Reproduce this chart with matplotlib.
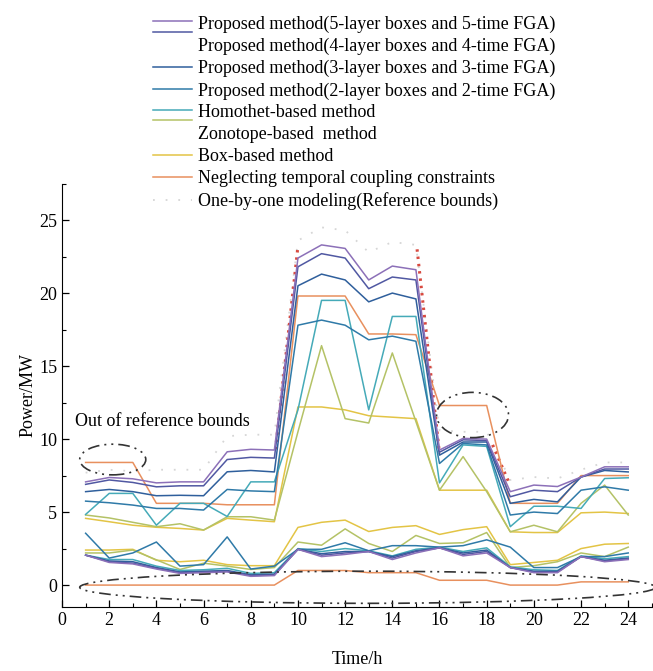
import numpy as np
import matplotlib
matplotlib.use("Agg")
import matplotlib.pyplot as plt
from matplotlib.lines import Line2D
from matplotlib.patches import Ellipse
from matplotlib.legend_handler import HandlerBase

plt.rcParams['font.family'] = ['Liberation Serif', 'DejaVu Serif']

# ---- data ----
hours = list(range(1, 25))

# upper bounds
up5 = [7.07, 7.37, 7.28, 7.0, 7.07, 7.07, 9.13, 9.3, 9.25, 22.4, 23.3, 23.06, 20.9, 21.85, 21.6,
       9.25, 10.05, 10.0, 6.4, 6.85, 6.75, 7.4, 8.1, 8.1]
up4 = [6.9, 7.2, 7.03, 6.73, 6.8, 6.8, 8.6, 8.75, 8.7, 21.8, 22.7, 22.4, 20.3, 21.1, 20.9,
       9.1, 9.95, 9.9, 6.05, 6.5, 6.4, 7.4, 7.95, 7.95]
up3 = [6.4, 6.55, 6.4, 6.12, 6.15, 6.12, 7.76, 7.85, 7.75, 20.5, 21.3, 20.9, 19.4, 20.0, 19.6,
       8.9, 9.8, 9.8, 5.6, 5.87, 5.7, 7.4, 7.85, 7.75]
up2 = [5.75, 5.64, 5.48, 5.25, 5.25, 5.14, 6.55, 6.45, 6.4, 17.8, 18.15, 17.8, 16.8, 17.05, 16.7,
       8.33, 9.7, 9.6, 4.8, 5.0, 4.9, 6.5, 6.73, 6.5]
up_hom = [4.84, 6.28, 6.28, 4.1, 5.6, 5.6, 4.7, 7.07, 7.07, 12.0, 19.5, 19.5, 12.0, 18.4, 18.4,
          7.0, 9.6, 9.5, 4.0, 5.4, 5.4, 5.25, 7.3, 7.35]
up_zon = [4.8, 4.6, 4.3, 4.0, 4.2, 3.77, 4.68, 4.68, 4.45, 10.5, 16.4, 11.4, 11.1, 15.9, 11.2,
          6.5, 8.8, 6.4, 3.65, 4.1, 3.65, 5.6, 6.85, 4.8]
up_box = [4.57, 4.34, 4.1, 3.96, 3.88, 3.77, 4.57, 4.45, 4.34, 12.2, 12.2, 12.0, 11.6, 11.5, 11.4,
          6.5, 6.5, 6.5, 3.65, 3.6, 3.6, 4.95, 5.0, 4.9]
up_neg = [8.4, 8.4, 8.4, 5.6, 5.6, 5.6, 5.5, 5.5, 5.5, 19.8, 19.8, 19.8, 17.2, 17.2, 17.15,
          12.3, 12.3, 12.3, 5.6, 5.6, 5.6, 7.5, 7.5, 7.5]
up_ref = [7.7, 7.9, 7.8, 7.9, 7.9, 7.9, 10.2, 10.3, 10.3, 23.6, 24.5, 24.3, 22.8, 23.5, 23.3,
          10.6, 10.5, 10.5, 7.2, 7.4, 7.3, 7.9, 8.4, 8.4]

# lower bounds
lo5 = [2.05, 1.55, 1.45, 1.1, 0.8, 0.85, 0.9, 0.6, 0.65, 2.45, 1.95, 2.1, 2.3, 1.75, 2.2,
       2.55, 2.0, 2.2, 1.2, 0.85, 0.85, 1.95, 1.6, 1.75]
lo4 = [2.05, 1.6, 1.5, 1.15, 0.85, 0.9, 0.95, 0.65, 0.7, 2.45, 2.05, 2.2, 2.3, 1.85, 2.3,
       2.55, 2.1, 2.3, 1.2, 0.9, 0.9, 1.95, 1.65, 1.8]
lo3 = [2.05, 1.65, 1.6, 1.2, 0.9, 0.95, 1.0, 0.7, 0.75, 2.45, 2.15, 2.3, 2.3, 1.95, 2.35,
       2.55, 2.2, 2.4, 1.2, 0.95, 0.95, 1.95, 1.7, 1.85]
lo2 = [3.55, 1.85, 2.2, 2.95, 1.3, 1.4, 3.3, 1.1, 1.3, 2.45, 2.45, 2.9, 2.35, 2.7, 2.7,
       2.6, 2.7, 3.1, 2.6, 1.2, 1.2, 1.95, 1.95, 2.2]
lo_hom = [2.05, 1.75, 1.75, 1.3, 1.0, 1.05, 1.15, 0.8, 0.85, 2.5, 2.3, 2.5, 2.35, 2.0, 2.45,
          2.6, 2.3, 2.55, 1.25, 1.05, 1.0, 2.0, 1.8, 1.95]
lo_zon = [2.2, 2.2, 2.4, 1.73, 1.07, 1.5, 1.3, 1.07, 1.2, 2.95, 2.73, 3.85, 2.85, 2.3, 3.4,
          2.85, 2.9, 3.6, 1.2, 1.33, 1.6, 2.2, 1.95, 2.6]
lo_box = [2.4, 2.4, 2.45, 1.7, 1.6, 1.7, 1.4, 1.33, 1.33, 3.95, 4.3, 4.45, 3.67, 3.95, 4.07,
          3.47, 3.8, 4.0, 1.4, 1.55, 1.7, 2.5, 2.8, 2.85]
lo_neg = [0, 0, 0, 0, 0, 0, 0, 0, 0, 1.0, 1.0, 1.0, 0.85, 0.85, 0.85,
          0.33, 0.33, 0.33, 0, 0, 0, 0.22, 0.22, 0.22]

# red dotted pieces of the reference bound that stick out
red_h = [[9.05, 10.0], [15.05, 16.0], [18.25, 18.95], [6.6, 6.62]]
red_v = [[9.3, 23.2], [23.0, 9.0], [9.6, 7.0], [9.2, 9.2]]

labels = ['Proposed method(5-layer boxes and 5-time FGA)',
          'Proposed method(4-layer boxes and 4-time FGA)',
          'Proposed method(3-layer boxes and 3-time FGA)',
          'Proposed method(2-layer boxes and 2-time FGA)',
          'Homothet-based method',
          'Zonotope-based  method',
          'Box-based method',
          'Neglecting temporal coupling constraints',
          'One-by-one modeling(Reference bounds)']

colors = ['#8c70b8', '#5058a2', '#2f5f9c', '#2f7aa8', '#45aab8',
          '#b4c266', '#e3c445', '#e8905e', '#d6d6d6']


class TwoLines(HandlerBase):
    # legend in the figure shows two stacked line samples on one row
    def __init__(self, c1, c2):
        super().__init__()
        self.c1, self.c2 = c1, c2

    def create_artists(self, legend, orig_handle, xdescent, ydescent, width, height, fontsize, trans):
        y = height / 2 - ydescent
        a = Line2D([-xdescent, width - xdescent], [y + 1, y + 1], color=self.c1, lw=1.1, transform=trans)
        b = Line2D([-xdescent, width - xdescent], [y - 6.5, y - 6.5], color=self.c2, lw=1.1, transform=trans)
        return [a, b]


fig = plt.figure(figsize=(6.53, 6.71), dpi=100)
ax = fig.add_axes([0.095, 0.0954, 0.905, 0.631])

# reference bound (faint)
ax.plot(hours, up_ref, color=colors[8], lw=1.3, linestyle=(0, (1, 6)), zorder=1)
for hh, vv in zip(red_h, red_v):
    ax.plot(hh, vv, color='#d84a40', lw=2.2, linestyle=(0, (0.8, 1.6)), zorder=1)

ups = [up5, up4, up3, up2, up_hom, up_zon, up_box, up_neg]
los = [lo5, lo4, lo3, lo2, lo_hom, lo_zon, lo_box, lo_neg]
for i in range(8)[::-1]:
    ax.plot(hours, ups[i], color=colors[i], lw=1.1, zorder=3)
    ax.plot(hours, los[i], color=colors[i], lw=1.1, zorder=3)

# dash-dot-dot ellipses
dd = (0, (7, 3, 1.2, 3, 1.2, 3))
for (cx, cy, w, h) in [(2.15, 8.6, 2.8, 2.1), (17.4, 11.65, 3.05, 3.1), (12.95, -0.15, 24.4, 2.2)]:
    e = Ellipse((cx, cy), w, h, fill=False, ec='#333333', lw=1.2, linestyle=dd, clip_on=False, zorder=4)
    ax.add_patch(e)

ax.text(0.55, 11.2, 'Out of reference bounds', fontsize=13, ha='left', va='center')

ax.set_xlim(0, 25.05)
ax.set_ylim(-1.5, 27.5)
ax.set_xticks(range(0, 25, 2))
ax.set_xticks(range(0, 26), minor=True)
ax.set_yticks([0, 5, 10, 15, 20, 25])
ax.set_yticks(np.arange(0, 27.6, 2.5), minor=True)
ax.tick_params(direction='in', labelsize=13, length=5, width=0.9)
ax.tick_params(which='minor', direction='in', length=3, width=0.8)
ax.spines['top'].set_visible(False)
ax.spines['right'].set_visible(False)
ax.set_xlabel('Time/h', fontsize=13, labelpad=16)
ax.set_ylabel('Power/MW', fontsize=13, labelpad=2)

# legend
handles = [Line2D([], [], color=c, lw=1.1) for c in colors]
handles[1] = Line2D([], [], color='none')
handles[5] = Line2D([], [], color='none')
handles[8] = Line2D([], [], color='#d6d6d6', lw=1.3, linestyle=(0, (1, 6)))
hmap = {handles[0]: TwoLines(colors[0], colors[1]), handles[4]: TwoLines(colors[4], colors[5])}
fig.legend(handles, labels, loc='upper left', bbox_to_anchor=(0.22, 0.99), frameon=False,
           fontsize=13, borderpad=0, handlelength=2.15, handletextpad=0.35, labelspacing=0.27,
           handler_map=hmap)

fig.savefig('out.png', dpi=100)
